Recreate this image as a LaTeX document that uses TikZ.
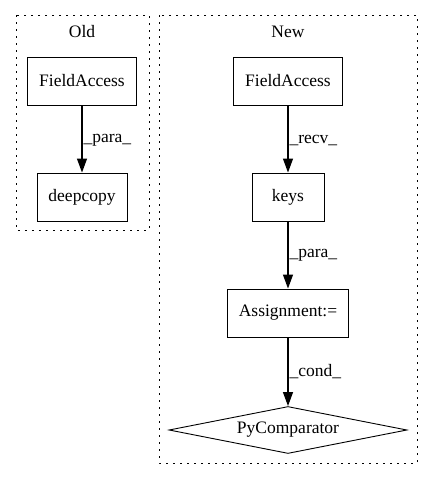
\documentclass[tikz,border=0pt]{standalone}
\usepackage{fontspec}
\setmainfont{Liberation Serif}
\usetikzlibrary{arrows.meta,shapes.geometric}

\tikzset{
  opbox/.style={draw, line width=0.9pt, minimum width=72pt, minimum height=48pt, inner xsep=11.5pt},
  cmpnode/.style={draw, line width=0.9pt, diamond, aspect=5, inner sep=0pt, minimum width=238pt, minimum height=47pt},
  cluster/.style={line width=1pt, dash pattern=on 2pt off 5pt},
  flow/.style={-{Triangle[length=14pt,width=10pt]}, line width=1.2pt},
}

\begin{document}
\begin{tikzpicture}[x=1pt, y=-1pt, font=\fontsize{17.5}{20}\selectfont]
  \useasboundingbox (0,0) rectangle (432,480);
  % clusters
  \draw[cluster] (16,15) rectangle (149,230);
  \draw[cluster] (159,15) rectangle (417,463);
  \node (oldlbl) at (82,32) {Old};
  \node (newlbl) at (288,32) {New};
  % Old
  \node[opbox] (oldfa) at (82,81) {FieldAccess};
  \node[opbox] (deepcopy) at (82,197) {deepcopy};
  % New
  \node[opbox] (newfa) at (288,81) {FieldAccess};
  \node[opbox] (keys) at (288,197) {keys};
  \node[opbox] (assign) at (288,313) {Assignment:=};
  \node[cmpnode] (pycomp) at (288,430) {PyComparator};
  \path[flow]
    (oldfa) edge node[anchor=west, pos=0.52, inner sep=1pt]{\_para\_} (deepcopy)
    (newfa) edge node[anchor=west, pos=0.52, inner sep=1pt]{\_recv\_} (keys)
    (keys) edge node[anchor=west, pos=0.5, inner sep=1pt]{\_para\_} (assign)
    (assign) edge node[anchor=west, pos=0.5, inner sep=1pt]{\_cond\_} (pycomp);
\end{tikzpicture}
\end{document}
